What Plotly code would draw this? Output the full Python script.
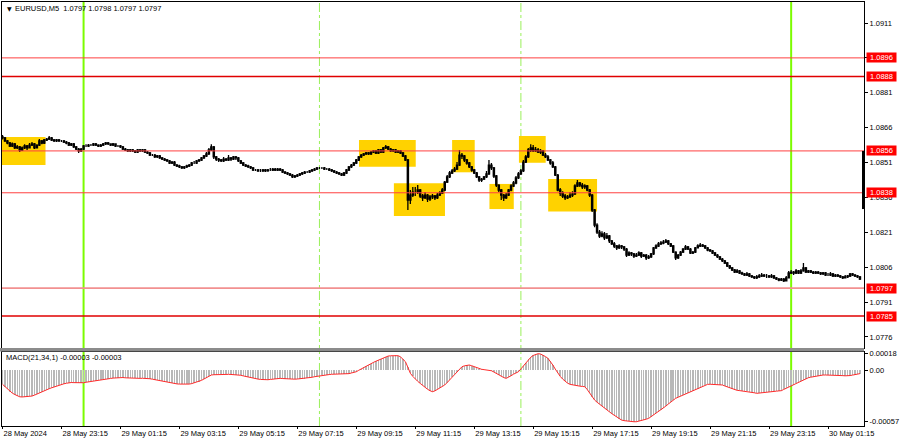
import plotly.graph_objects as go

# ---------------- data (EURUSD M5, bar 0 = 28 May 2024 21:15) ----------------
first_open = 1.08620
closes = [
 1.08616,1.08603,1.08594,1.08581,1.08590,1.08573,1.08577,1.08564,1.08573,1.08581,1.08573,1.08585,
 1.08590,1.08573,1.08585,1.08603,1.08594,1.08607,1.08611,1.08616,1.08607,1.08603,1.08607,1.08603,
 1.08603,1.08598,1.08594,1.08585,1.08590,1.08577,1.08568,1.08560,1.08568,1.08581,1.08581,1.08585,
 1.08585,1.08590,1.08585,1.08581,1.08585,1.08590,1.08594,1.08590,1.08585,1.08590,1.08581,1.08581,
 1.08577,1.08568,1.08564,1.08560,1.08564,1.08560,1.08555,1.08564,1.08560,1.08564,1.08555,1.08551,
 1.08542,1.08542,1.08534,1.08538,1.08530,1.08525,1.08521,1.08517,1.08508,1.08512,1.08499,1.08495,
 1.08491,1.08487,1.08491,1.08495,1.08499,1.08508,1.08508,1.08517,1.08521,1.08530,1.08538,1.08547,
 1.08564,1.08577,1.08534,1.08525,1.08521,1.08517,1.08525,1.08521,1.08530,1.08525,1.08534,1.08530,
 1.08517,1.08508,1.08499,1.08495,1.08491,1.08487,1.08478,1.08478,1.08474,1.08474,1.08478,1.08474,
 1.08478,1.08478,1.08482,1.08478,1.08482,1.08478,1.08469,1.08465,1.08461,1.08456,1.08448,1.08452,
 1.08456,1.08461,1.08465,1.08469,1.08469,1.08474,1.08478,1.08482,1.08487,1.08487,1.08487,1.08482,
 1.08482,1.08478,1.08474,1.08469,1.08465,1.08461,1.08456,1.08465,1.08478,1.08491,1.08499,1.08508,
 1.08521,1.08534,1.08542,1.08547,1.08551,1.08547,1.08555,1.08560,1.08551,1.08564,1.08555,1.08573,
 1.08577,1.08568,1.08560,1.08564,1.08555,1.08560,1.08551,1.08538,1.08521,1.08349,1.08370,1.08383,
 1.08383,1.08392,1.08366,1.08358,1.08370,1.08353,1.08362,1.08366,1.08358,1.08370,1.08379,1.08392,
 1.08426,1.08448,1.08465,1.08474,1.08482,1.08499,1.08542,1.08538,1.08521,1.08508,1.08491,1.08478,
 1.08465,1.08448,1.08435,1.08439,1.08448,1.08461,1.08499,1.08487,1.08452,1.08413,1.08392,1.08370,
 1.08358,1.08370,1.08392,1.08409,1.08422,1.08444,1.08461,1.08474,1.08512,1.08534,1.08564,1.08573,
 1.08560,1.08564,1.08555,1.08560,1.08542,1.08534,1.08521,1.08508,1.08491,1.08456,1.08392,1.08379,
 1.08366,1.08358,1.08362,1.08370,1.08375,1.08409,1.08422,1.08413,1.08405,1.08409,1.08392,1.08370,
 1.08306,1.08241,1.08211,1.08194,1.08203,1.08186,1.08194,1.08173,1.08160,1.08151,1.08143,1.08151,
 1.08147,1.08138,1.08112,1.08121,1.08117,1.08108,1.08112,1.08121,1.08108,1.08112,1.08100,1.08104,
 1.08117,1.08143,1.08151,1.08160,1.08164,1.08168,1.08173,1.08160,1.08151,1.08125,1.08100,1.08112,
 1.08125,1.08138,1.08147,1.08138,1.08121,1.08125,1.08143,1.08151,1.08155,1.08151,1.08143,1.08134,
 1.08130,1.08121,1.08112,1.08104,1.08095,1.08087,1.08078,1.08065,1.08057,1.08048,1.08039,1.08044,
 1.08035,1.08031,1.08026,1.08031,1.08022,1.08018,1.08014,1.08018,1.08022,1.08026,1.08022,1.08022,
 1.08018,1.08022,1.08014,1.08009,1.08005,1.08009,1.08001,1.08014,1.08035,1.08039,1.08035,1.08044,
 1.08035,1.08044,1.08057,1.08039,1.08044,1.08039,1.08035,1.08039,1.08035,1.08031,1.08035,1.08026,
 1.08026,1.08031,1.08022,1.08026,1.08022,1.08018,1.08014,1.08018,1.08022,1.08031,1.08026,1.08022,1.08018,1.08009,
]
highs = [
 1.08628,1.08620,1.08607,1.08598,1.08596,1.08594,1.08585,1.08581,1.08579,1.08589,1.08585,1.08594,
 1.08598,1.08594,1.08589,1.08611,1.08607,1.08611,1.08616,1.08624,1.08620,1.08611,1.08611,1.08611,
 1.08607,1.08607,1.08603,1.08598,1.08594,1.08594,1.08581,1.08573,1.08573,1.08585,1.08589,1.08590,
 1.08590,1.08594,1.08594,1.08589,1.08590,1.08594,1.08598,1.08598,1.08590,1.08594,1.08590,1.08585,
 1.08585,1.08581,1.08573,1.08568,1.08568,1.08568,1.08564,1.08568,1.08568,1.08568,1.08568,1.08560,
 1.08555,1.08547,1.08547,1.08542,1.08542,1.08534,1.08530,1.08525,1.08521,1.08517,1.08517,1.08504,
 1.08500,1.08495,1.08495,1.08500,1.08504,1.08512,1.08517,1.08521,1.08525,1.08534,1.08542,1.08555,
 1.08573,1.08589,1.08581,1.08538,1.08530,1.08525,1.08534,1.08530,1.08542,1.08534,1.08538,1.08538,
 1.08534,1.08521,1.08512,1.08504,1.08500,1.08495,1.08491,1.08482,1.08482,1.08482,1.08482,1.08482,
 1.08482,1.08487,1.08487,1.08487,1.08487,1.08487,1.08482,1.08474,1.08469,1.08465,1.08461,1.08456,
 1.08461,1.08465,1.08469,1.08474,1.08474,1.08478,1.08482,1.08487,1.08491,1.08491,1.08491,1.08491,
 1.08487,1.08487,1.08482,1.08478,1.08474,1.08469,1.08465,1.08469,1.08482,1.08495,1.08504,1.08512,
 1.08525,1.08538,1.08547,1.08551,1.08555,1.08555,1.08560,1.08564,1.08564,1.08568,1.08568,1.08577,
 1.08585,1.08581,1.08573,1.08568,1.08568,1.08564,1.08564,1.08555,1.08542,1.08525,1.08392,1.08405,
 1.08405,1.08413,1.08396,1.08375,1.08383,1.08375,1.08370,1.08375,1.08370,1.08379,1.08387,1.08400,
 1.08431,1.08456,1.08474,1.08482,1.08491,1.08512,1.08564,1.08551,1.08542,1.08525,1.08512,1.08495,
 1.08482,1.08469,1.08452,1.08444,1.08452,1.08474,1.08521,1.08508,1.08491,1.08456,1.08417,1.08396,
 1.08375,1.08379,1.08396,1.08417,1.08431,1.08452,1.08469,1.08482,1.08521,1.08542,1.08573,1.08589,
 1.08585,1.08577,1.08573,1.08568,1.08564,1.08551,1.08542,1.08525,1.08517,1.08495,1.08461,1.08400,
 1.08387,1.08375,1.08370,1.08383,1.08387,1.08417,1.08435,1.08426,1.08422,1.08417,1.08413,1.08396,
 1.08375,1.08310,1.08249,1.08220,1.08215,1.08211,1.08207,1.08198,1.08177,1.08168,1.08155,1.08159,
 1.08155,1.08151,1.08143,1.08129,1.08125,1.08121,1.08121,1.08129,1.08125,1.08117,1.08117,1.08112,
 1.08121,1.08147,1.08159,1.08168,1.08173,1.08177,1.08181,1.08177,1.08164,1.08155,1.08129,1.08117,
 1.08130,1.08143,1.08155,1.08151,1.08143,1.08130,1.08147,1.08159,1.08164,1.08160,1.08155,1.08147,
 1.08138,1.08134,1.08125,1.08117,1.08108,1.08099,1.08091,1.08082,1.08069,1.08061,1.08052,1.08052,
 1.08048,1.08040,1.08035,1.08039,1.08035,1.08026,1.08022,1.08026,1.08031,1.08035,1.08031,1.08031,
 1.08026,1.08031,1.08026,1.08018,1.08014,1.08014,1.08013,1.08022,1.08044,1.08048,1.08044,1.08052,
 1.08048,1.08052,1.08078,1.08061,1.08048,1.08048,1.08044,1.08044,1.08044,1.08039,1.08039,1.08039,
 1.08035,1.08039,1.08035,1.08031,1.08031,1.08026,1.08022,1.08026,1.08026,1.08035,1.08035,1.08031,1.08026,1.08022,
]
lows = [
 1.08609,1.08598,1.08589,1.08577,1.08577,1.08568,1.08568,1.08555,1.08560,1.08568,1.08564,1.08570,
 1.08581,1.08568,1.08570,1.08581,1.08589,1.08590,1.08603,1.08607,1.08603,1.08598,1.08598,1.08598,
 1.08598,1.08594,1.08589,1.08581,1.08581,1.08573,1.08564,1.08551,1.08555,1.08564,1.08577,1.08577,
 1.08581,1.08581,1.08581,1.08577,1.08577,1.08581,1.08585,1.08585,1.08581,1.08581,1.08577,1.08577,
 1.08573,1.08564,1.08560,1.08555,1.08555,1.08555,1.08551,1.08551,1.08555,1.08555,1.08551,1.08547,
 1.08538,1.08538,1.08530,1.08530,1.08525,1.08521,1.08517,1.08512,1.08504,1.08504,1.08495,1.08491,
 1.08487,1.08482,1.08482,1.08487,1.08491,1.08495,1.08504,1.08504,1.08512,1.08517,1.08525,1.08534,
 1.08542,1.08560,1.08525,1.08517,1.08512,1.08512,1.08512,1.08517,1.08517,1.08517,1.08521,1.08521,
 1.08512,1.08504,1.08495,1.08491,1.08487,1.08482,1.08474,1.08474,1.08469,1.08469,1.08469,1.08469,
 1.08470,1.08474,1.08474,1.08474,1.08474,1.08474,1.08465,1.08461,1.08456,1.08452,1.08444,1.08444,
 1.08448,1.08452,1.08456,1.08461,1.08465,1.08465,1.08469,1.08474,1.08478,1.08482,1.08482,1.08478,
 1.08478,1.08474,1.08469,1.08465,1.08461,1.08456,1.08452,1.08452,1.08461,1.08474,1.08487,1.08495,
 1.08504,1.08517,1.08530,1.08538,1.08542,1.08542,1.08542,1.08551,1.08547,1.08547,1.08551,1.08551,
 1.08568,1.08564,1.08555,1.08555,1.08551,1.08551,1.08547,1.08534,1.08517,1.08306,1.08332,1.08362,
 1.08366,1.08375,1.08358,1.08345,1.08353,1.08340,1.08345,1.08353,1.08349,1.08353,1.08366,1.08375,
 1.08387,1.08422,1.08444,1.08461,1.08469,1.08478,1.08495,1.08525,1.08512,1.08500,1.08487,1.08470,
 1.08461,1.08444,1.08426,1.08426,1.08435,1.08444,1.08456,1.08478,1.08444,1.08405,1.08383,1.08349,
 1.08345,1.08353,1.08366,1.08387,1.08405,1.08417,1.08439,1.08456,1.08469,1.08508,1.08530,1.08555,
 1.08555,1.08555,1.08551,1.08547,1.08538,1.08530,1.08517,1.08500,1.08487,1.08452,1.08387,1.08366,
 1.08358,1.08349,1.08353,1.08358,1.08362,1.08370,1.08405,1.08405,1.08396,1.08396,1.08387,1.08362,
 1.08297,1.08232,1.08203,1.08186,1.08189,1.08177,1.08181,1.08164,1.08155,1.08143,1.08134,1.08138,
 1.08138,1.08130,1.08104,1.08108,1.08108,1.08100,1.08104,1.08108,1.08099,1.08104,1.08091,1.08095,
 1.08099,1.08112,1.08138,1.08147,1.08155,1.08159,1.08164,1.08155,1.08147,1.08121,1.08091,1.08095,
 1.08108,1.08121,1.08134,1.08134,1.08117,1.08117,1.08121,1.08143,1.08147,1.08147,1.08138,1.08129,
 1.08125,1.08117,1.08108,1.08099,1.08091,1.08082,1.08074,1.08061,1.08052,1.08044,1.08035,1.08035,
 1.08031,1.08026,1.08022,1.08022,1.08018,1.08014,1.08009,1.08009,1.08014,1.08018,1.08018,1.08014,
 1.08014,1.08014,1.08009,1.08005,1.08000,1.08001,1.07996,1.08001,1.08014,1.08031,1.08026,1.08031,
 1.08031,1.08031,1.08040,1.08035,1.08035,1.08035,1.08031,1.08031,1.08031,1.08026,1.08026,1.08022,
 1.08022,1.08022,1.08018,1.08018,1.08018,1.08014,1.08009,1.08013,1.08014,1.08018,1.08022,1.08018,1.08013,1.08005,
]
macd = [
 -0.000158,-0.000185,-0.000212,-0.000239,-0.000255,-0.000270,-0.000284,-0.000295,-0.000297,-0.000296,-0.000294,-0.000291,
 -0.000287,-0.000277,-0.000264,-0.000251,-0.000239,-0.000228,-0.000217,-0.000206,-0.000196,-0.000186,-0.000176,-0.000168,
 -0.000160,-0.000152,-0.000146,-0.000140,-0.000138,-0.000139,-0.000141,-0.000142,-0.000141,-0.000140,-0.000135,-0.000130,
 -0.000125,-0.000121,-0.000117,-0.000112,-0.000108,-0.000103,-0.000099,-0.000096,-0.000093,-0.000089,-0.000086,-0.000083,
 -0.000081,-0.000083,-0.000086,-0.000088,-0.000090,-0.000092,-0.000093,-0.000093,-0.000092,-0.000091,-0.000091,-0.000092,
 -0.000096,-0.000101,-0.000107,-0.000112,-0.000118,-0.000124,-0.000130,-0.000136,-0.000141,-0.000147,-0.000150,-0.000153,
 -0.000155,-0.000157,-0.000158,-0.000158,-0.000155,-0.000150,-0.000143,-0.000136,-0.000129,-0.000114,-0.000099,-0.000084,
 -0.000068,-0.000055,-0.000052,-0.000050,-0.000049,-0.000048,-0.000047,-0.000047,-0.000048,-0.000049,-0.000050,-0.000051,
 -0.000052,-0.000058,-0.000065,-0.000072,-0.000079,-0.000086,-0.000092,-0.000096,-0.000100,-0.000104,-0.000107,-0.000110,
 -0.000107,-0.000104,-0.000100,-0.000097,-0.000094,-0.000092,-0.000094,-0.000097,-0.000099,-0.000101,-0.000103,-0.000101,
 -0.000099,-0.000097,-0.000096,-0.000094,-0.000092,-0.000086,-0.000080,-0.000074,-0.000069,-0.000063,-0.000060,-0.000056,
 -0.000053,-0.000050,-0.000047,-0.000047,-0.000048,-0.000048,-0.000048,-0.000047,-0.000047,-0.000040,-0.000033,-0.000026,
 -0.000019,-0.000003,0.000013,0.000028,0.000044,0.000057,0.000070,0.000084,0.000097,0.000110,0.000121,0.000132,
 0.000143,0.000154,0.000157,0.000159,0.000160,0.000158,0.000145,0.000122,0.000092,0.000030,-0.000036,-0.000070,
 -0.000100,-0.000125,-0.000147,-0.000170,-0.000192,-0.000212,-0.000228,-0.000239,-0.000230,-0.000214,-0.000196,-0.000180,
 -0.000165,-0.000138,-0.000110,-0.000078,-0.000047,-0.000017,0.000012,0.000036,0.000046,0.000052,0.000055,0.000047,
 0.000036,0.000025,0.000015,0.000008,0.000004,0.000000,-0.000004,-0.000008,-0.000022,-0.000038,-0.000055,-0.000070,
 -0.000083,-0.000092,-0.000080,-0.000063,-0.000046,-0.000030,-0.000019,0.000012,0.000046,0.000082,0.000118,0.000140,
 0.000160,0.000173,0.000180,0.000176,0.000165,0.000148,0.000129,0.000095,0.000055,0.000010,-0.000036,-0.000070,
 -0.000100,-0.000125,-0.000145,-0.000158,-0.000165,-0.000170,-0.000174,-0.000178,-0.000181,-0.000184,-0.000215,-0.000255,
 -0.000295,-0.000331,-0.000355,-0.000378,-0.000400,-0.000421,-0.000441,-0.000460,-0.000481,-0.000500,-0.000519,-0.000537,
 -0.000552,-0.000558,-0.000563,-0.000567,-0.000569,-0.000570,-0.000570,-0.000565,-0.000558,-0.000550,-0.000542,-0.000533,
 -0.000515,-0.000497,-0.000478,-0.000460,-0.000441,-0.000420,-0.000398,-0.000375,-0.000352,-0.000330,-0.000312,-0.000300,
 -0.000288,-0.000276,-0.000266,-0.000257,-0.000244,-0.000231,-0.000219,-0.000206,-0.000194,-0.000182,-0.000170,-0.000158,
 -0.000157,-0.000158,-0.000159,-0.000161,-0.000163,-0.000165,-0.000176,-0.000187,-0.000199,-0.000210,-0.000221,-0.000224,
 -0.000227,-0.000230,-0.000233,-0.000236,-0.000239,-0.000245,-0.000251,-0.000257,-0.000253,-0.000249,-0.000246,-0.000242,
 -0.000239,-0.000237,-0.000235,-0.000233,-0.000230,-0.000228,-0.000214,-0.000201,-0.000187,-0.000174,-0.000160,-0.000147,
 -0.000135,-0.000122,-0.000110,-0.000097,-0.000085,-0.000079,-0.000073,-0.000067,-0.000061,-0.000055,-0.000055,-0.000055,
 -0.000055,-0.000055,-0.000055,-0.000055,-0.000057,-0.000059,-0.000062,-0.000064,-0.000066,-0.000061,-0.000056,-0.000050,-0.000045,-0.000040,
]

time_tick_bars = [0, 24, 48, 72, 96, 120, 144, 168, 192, 216, 240, 264, 288, 312, 336]
time_labels = ["28 May 2024", "28 May 23:15", "29 May 01:15", "29 May 03:15", "29 May 05:15",
               "29 May 07:15", "29 May 09:15", "29 May 11:15", "29 May 13:15", "29 May 15:15",
               "29 May 17:15", "29 May 19:15", "29 May 21:15", "29 May 23:15", "30 May 01:15"]
price_ticks = [1.0911, 1.0896, 1.0881, 1.0866, 1.0851, 1.0836, 1.0821, 1.0806, 1.0791, 1.0776]
macd_ticks = [0.00018, 0.0, -0.00057]
macd_tick_text = ["0.00018", "0.00", "-0.00057"]

levels = [1.0896, 1.0888, 1.0856, 1.0838, 1.0797, 1.0785]
day_sep_bars = [33, 321]          # midnight markers
session_bars = [129, 211]         # dashed session markers

box_start = [-1.0, 145.1, 159.3, 183.0, 198.2, 210.2, 222.1]
box_end = [17.5, 168.2, 180.1, 192.2, 208.1, 221.1, 242.0]
box_top = [1.08620, 1.08607, 1.08421, 1.08607, 1.08418, 1.08624, 1.08439]
box_bottom = [1.08499, 1.08492, 1.08280, 1.08468, 1.08310, 1.08509, 1.08299]

edge_bar = [1.0856, 1.0831]
header_text = "EURUSD,M5  1.0797 1.0798 1.0797 1.0797"
macd_header = "MACD(21,34,1) -0.00003 -0.00003"

assert len(closes) == len(highs) == len(lows) == len(macd), (len(closes), len(highs), len(lows), len(macd))

opens = [first_open] + closes[:-1]
bars = list(range(len(closes)))

# ---------------- figure ----------------
W, H = 900, 441
ML, MR, MT, MB = 2, 36, 2, 15
PW, PH = W - ML - MR, H - MT - MB

def py(pix):   # pixel y -> paper y
    return 1 - (pix - MT) / PH

def px(pix):
    return (pix - ML) / PW

FONT = "Liberation Sans, Arial, sans-serif"
x_range = [-0.2035, 350.65]

fig = go.Figure()
fig.add_trace(go.Candlestick(
    x=bars, open=opens, high=highs, low=lows, close=closes,
    increasing=dict(line=dict(color="black", width=1.3), fillcolor="white"),
    decreasing=dict(line=dict(color="black", width=1.3), fillcolor="black"),
    whiskerwidth=0, hoverinfo="skip", showlegend=False,
    xaxis="x", yaxis="y"))
fig.add_trace(go.Bar(
    x=bars, y=macd, marker=dict(color="#b8b8b8", line=dict(width=0)), width=0.6,
    hoverinfo="skip", showlegend=False, xaxis="x2", yaxis="y2"))
fig.add_trace(go.Scatter(
    x=bars, y=macd, mode="lines", line=dict(color="#ff2a2a", width=1),
    hoverinfo="skip", showlegend=False, xaxis="x2", yaxis="y2"))

axis_common = dict(showgrid=False, zeroline=False, showline=True, mirror=True,
                   linecolor="black", linewidth=1)

fig.update_layout(
    width=W, height=H, margin=dict(l=ML, r=MR, t=MT, b=MB, autoexpand=False),
    paper_bgcolor="white", plot_bgcolor="white",
    font=dict(family=FONT, size=7.5, color="black"),
    bargap=0,
    xaxis=dict(domain=[0, 1], range=x_range, anchor="y", showticklabels=False, ticks="",
               rangeslider=dict(visible=False), **axis_common),
    yaxis=dict(domain=[py(348), 1], range=[1.077125, 1.092003], side="right", anchor="x",
               tickvals=price_ticks, ticktext=[f"{v:.4f}" for v in price_ticks],
               ticks="outside", ticklen=3, tickcolor="black",
               tickfont=dict(size=7.5, family=FONT), **axis_common),
    xaxis2=dict(domain=[0, 1], range=x_range, anchor="y2", matches="x",
                tickvals=time_tick_bars, ticktext=time_labels,
                ticks="outside", ticklen=2, tickcolor="black",
                ticklabelposition="outside right",
                tickfont=dict(size=7.5, family=FONT), **axis_common),
    yaxis2=dict(domain=[0, py(352)], range=[-0.000617, 0.0001985], side="right", anchor="x2",
                tickvals=macd_ticks, ticktext=macd_tick_text,
                ticks="outside", ticklen=3, tickcolor="black",
                tickfont=dict(size=7.5, family=FONT), **axis_common),
)

shapes = []
# yellow zones
for x0, x1, y1, y0 in zip(box_start, box_end, box_top, box_bottom):
    shapes.append(dict(type="rect", xref="x", yref="y", x0=x0, x1=x1, y0=y0, y1=y1,
                       fillcolor="#FFD200", line=dict(width=0), layer="below"))
# vertical markers spanning both panels
for b in day_sep_bars:
    shapes.append(dict(type="line", xref="x", yref="paper", x0=b, x1=b, y0=0, y1=1,
                       line=dict(color="#7CFC00", width=2), layer="below"))
for b in session_bars:
    shapes.append(dict(type="line", xref="x", yref="paper", x0=b, x1=b, y0=0, y1=1,
                       line=dict(color="#9AF05A", width=1, dash="dashdot"), layer="below"))
# horizontal levels
level_style = [("#ff4040", 1), ("#e00000", 1.6), ("#ff4040", 1), ("#ff4040", 1), ("#f29090", 1.6), ("#e00000", 1.6)]
for lv, (col, wd) in zip(levels, level_style):
    shapes.append(dict(type="line", xref="paper", yref="y", x0=0, x1=1, y0=lv, y1=lv,
                       line=dict(color=col, width=wd), layer="above"))
# separator between panels
shapes.append(dict(type="rect", xref="paper", yref="paper", x0=px(0), x1=1, y0=py(351.5), y1=py(348),
                   fillcolor="#8c8c8c", line=dict(width=0), layer="above"))
# thick mark at right edge
shapes.append(dict(type="line", xref="paper", yref="y", x0=1 - 0.5 / PW, x1=1 - 0.5 / PW,
                   y0=edge_bar[0], y1=edge_bar[1], line=dict(color="black", width=3)))
fig.update_layout(shapes=shapes)

ann = []
ann.append(dict(xref="paper", yref="paper", x=px(5), y=py(8), text="▼", showarrow=False,
                xanchor="left", yanchor="middle", font=dict(size=6, family="DejaVu Sans")))
ann.append(dict(xref="paper", yref="paper", x=px(12.5), y=py(8), text=header_text, showarrow=False,
                xanchor="left", yanchor="middle", font=dict(size=7.5, family=FONT)))
ann.append(dict(xref="paper", yref="paper", x=px(4), y=py(357), text=macd_header, showarrow=False,
                xanchor="left", yanchor="middle", font=dict(size=7.5, family=FONT)))
for lv in levels:
    ann.append(dict(xref="paper", yref="y", x=px(866), y=lv, text=f"{lv:.4f}", showarrow=False,
                    xanchor="left", yanchor="middle", bgcolor="#ff0000", borderpad=0,
                    width=29, height=9, font=dict(size=7.5, family=FONT, color="white")))
fig.update_layout(annotations=ann)

fig.write_html("out.html", config={"displayModeBar": False, "staticPlot": True},
               post_script="document.body.style.margin='0';document.body.style.padding='0';")
